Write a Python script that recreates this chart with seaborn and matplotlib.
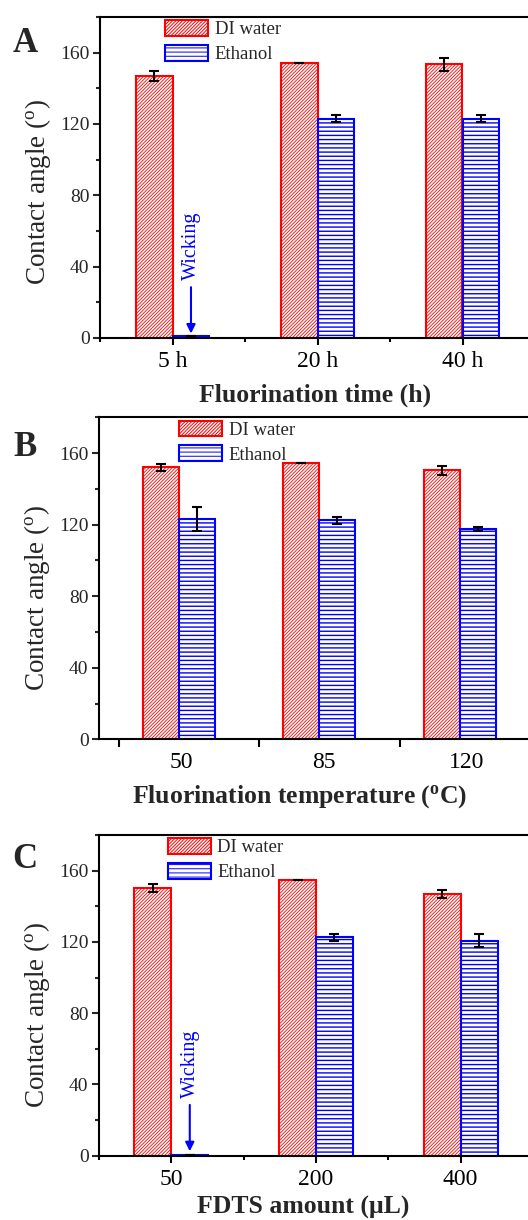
import numpy as np
import pandas as pd
import matplotlib
matplotlib.use("Agg")
import matplotlib.pyplot as plt
from matplotlib.ticker import MultipleLocator, FixedLocator
import seaborn as sns

# ---------------- data ----------------
liquids = ["DI water", "Ethanol"]

cats_a = ["5 h", "20 h", "40 h"]
water_a = [147.1, 154.2, 153.5]
water_err_a = [2.9, 0.0, 3.5]
eth_a = [1.0, 122.9, 122.9]
eth_err_a = [0.0, 1.9, 1.9]

cats_b = ["50", "85", "120"]
water_b = [152.1, 154.4, 150.3]
water_err_b = [2.0, 0.0, 2.3]
eth_b = [123.1, 122.5, 117.5]
eth_err_b = [6.5, 1.9, 1.2]

cats_c = ["50", "200", "400"]
water_c = [150.3, 154.6, 147.1]
water_err_c = [2.2, 0.0, 2.3]
eth_c = [0.5, 122.5, 120.7]
eth_err_c = [0.0, 1.9, 3.7]

xlabels = ["Fluorination time (h)",
           r"Fluorination temperature ($^{\mathbf{o}}$C)",
           "FDTS amount (\u03bcL)"]
ylabel = r"Contact angle ($^{\mathrm{o}}$)"
letters = ["A", "B", "C"]

# ---------------- style ----------------
sns.set_style("ticks")
plt.rcParams["font.family"] = ["Liberation Serif", "DejaVu Serif"]
plt.rcParams["mathtext.fontset"] = "custom"
plt.rcParams["mathtext.rm"] = "Liberation Serif"
plt.rcParams["mathtext.bf"] = "Liberation Serif:bold"
plt.rcParams["mathtext.it"] = "Liberation Serif:italic"
plt.rcParams["hatch.linewidth"] = 0.7

RED = "#FF0000"
BLUE = "#0000FF"

fig = plt.figure(figsize=(5.28, 12.2), dpi=100)
W, H = 528.0, 1220.0

# axes geometry in pixels: left, top, bottom(y of zero), width
geo = [
    dict(left=100, top=17, bottom=338, width=435, xlim=(-0.5, 2.5)),
    dict(left=99, top=417.3, bottom=739.3, width=431, xlim=(-0.567, 2.5)),
    dict(left=99, top=835, bottom=1155.7, width=434, xlim=(-0.5, 2.5)),
]
letter_pos = [(13, 43), (13, 447), (12, 860)]
legend_x = [0.149, 0.186, 0.158]
xlabel_x = [0.494, 0.465, 0.47]
xlabel_pad = [8, 7, 4]
ylabel_y = [0.455, 0.44, 0.44]

panels = [
    (cats_a, water_a, water_err_a, eth_a, eth_err_a, True),
    (cats_b, water_b, water_err_b, eth_b, eth_err_b, False),
    (cats_c, water_c, water_err_c, eth_c, eth_err_c, True),
]

for i, (cats, wv, we, ev, ee, wick) in enumerate(panels):
    g = geo[i]
    ax = fig.add_axes([g["left"] / W, 1 - g["bottom"] / H,
                       g["width"] / W, (g["bottom"] - g["top"]) / H])
    df = pd.DataFrame({
        "cat": cats * 2,
        "liquid": [liquids[0]] * 3 + [liquids[1]] * 3,
        "angle": wv + ev,
    })
    sns.barplot(data=df, x="cat", y="angle", hue="liquid", order=cats,
                hue_order=liquids, width=0.51, errorbar=None, legend=False,
                palette=["white", "white"], saturation=1, ax=ax)
    cont_w, cont_e = ax.containers[0], ax.containers[1]
    for p in cont_w:
        p.set_facecolor("white")
        p.set_edgecolor(RED)
        p.set_linewidth(1.5)
        p.set_hatch("//////////")
        if hasattr(p, "set_hatch_linewidth"):
            p.set_hatch_linewidth(0.6)
    for p in cont_e:
        p.set_facecolor("white")
        p.set_edgecolor(BLUE)
        p.set_linewidth(1.5)
        p.set_hatch("----")
        if hasattr(p, "set_hatch_linewidth"):
            p.set_hatch_linewidth(1.0)

    xw = [p.get_x() + p.get_width() / 2 for p in cont_w]
    xe = [p.get_x() + p.get_width() / 2 for p in cont_e]
    ax.errorbar(xw, wv, yerr=we, fmt="none", ecolor="black",
                elinewidth=1.5, capsize=3.6, capthick=1.5, zorder=5)
    ax.errorbar(xe, ev, yerr=ee, fmt="none", ecolor="black",
                elinewidth=1.5, capsize=3.6, capthick=1.5, zorder=5)

    ax.set_ylim(0, 180)
    ax.set_xlim(*g["xlim"])
    ax.yaxis.set_major_locator(MultipleLocator(40))
    ax.yaxis.set_minor_locator(MultipleLocator(20))

    if i == 1:
        ax.set_xticks([0.02, 1.03, 2.05])
        ax.set_xticklabels(cats)
        ax.xaxis.set_minor_locator(FixedLocator([-0.425, 0.575, 1.575, 2.575]))
        ax.tick_params(axis="x", which="major", length=0, pad=9.5)
        ax.tick_params(axis="x", which="minor", length=5.5, width=1.5,
                       direction="out")
    else:
        ax.set_xticks([0, 1, 2])
        ax.set_xticklabels(cats)
        ax.xaxis.set_minor_locator(FixedLocator([-0.5, 0.5, 1.5, 2.5]))
        ax.tick_params(axis="x", which="major", length=5, width=1.5, pad=4.5)
        ax.tick_params(axis="x", which="minor", length=3.2, width=1.5)

    ax.tick_params(axis="x", which="both", direction="out", labelsize=17,
                   colors="black", top=False)
    ax.tick_params(axis="y", which="major", length=5, width=1.5, pad=2.5,
                   labelsize=14, direction="out", right=False)
    ax.tick_params(axis="y", which="minor", length=3, width=1.5,
                   direction="out", right=False)

    for s in ax.spines.values():
        s.set_linewidth(1.5)
        s.set_color("black")

    ax.set_xlabel(xlabels[i], fontsize=18.5, fontweight="bold",
                  labelpad=xlabel_pad[i])
    ax.xaxis.label.set_x(xlabel_x[i])
    ax.set_ylabel(ylabel, fontsize=19.5, va="center")
    ax.yaxis.set_label_coords(-0.143, ylabel_y[i])

    leg = ax.legend(handles=[cont_w[0], cont_e[0]], labels=liquids,
                    loc="upper left", bbox_to_anchor=(legend_x[i], 0.99),
                    frameon=False, fontsize=13.5, handlelength=2.3,
                    handleheight=0.9, handletextpad=0.35, borderpad=0,
                    borderaxespad=0, labelspacing=0.35)

    if wick:
        xa = xe[0]
        ax.annotate("", xy=(xa, 2.5), xytext=(xa, 28.5),
                    arrowprops=dict(arrowstyle="-|>", color=BLUE, lw=1.5,
                                    mutation_scale=13, shrinkA=0, shrinkB=0))
        ax.text(xa + 0.005, 32.5, "Wicking", rotation=90, color=BLUE,
                ha="center", va="bottom", fontsize=14.5)

    lx, ly = letter_pos[i]
    fig.text(lx / W, 1 - ly / H, letters[i], fontsize=25, fontweight="bold",
             ha="left", va="center")

fig.savefig("out.png", dpi=100)
